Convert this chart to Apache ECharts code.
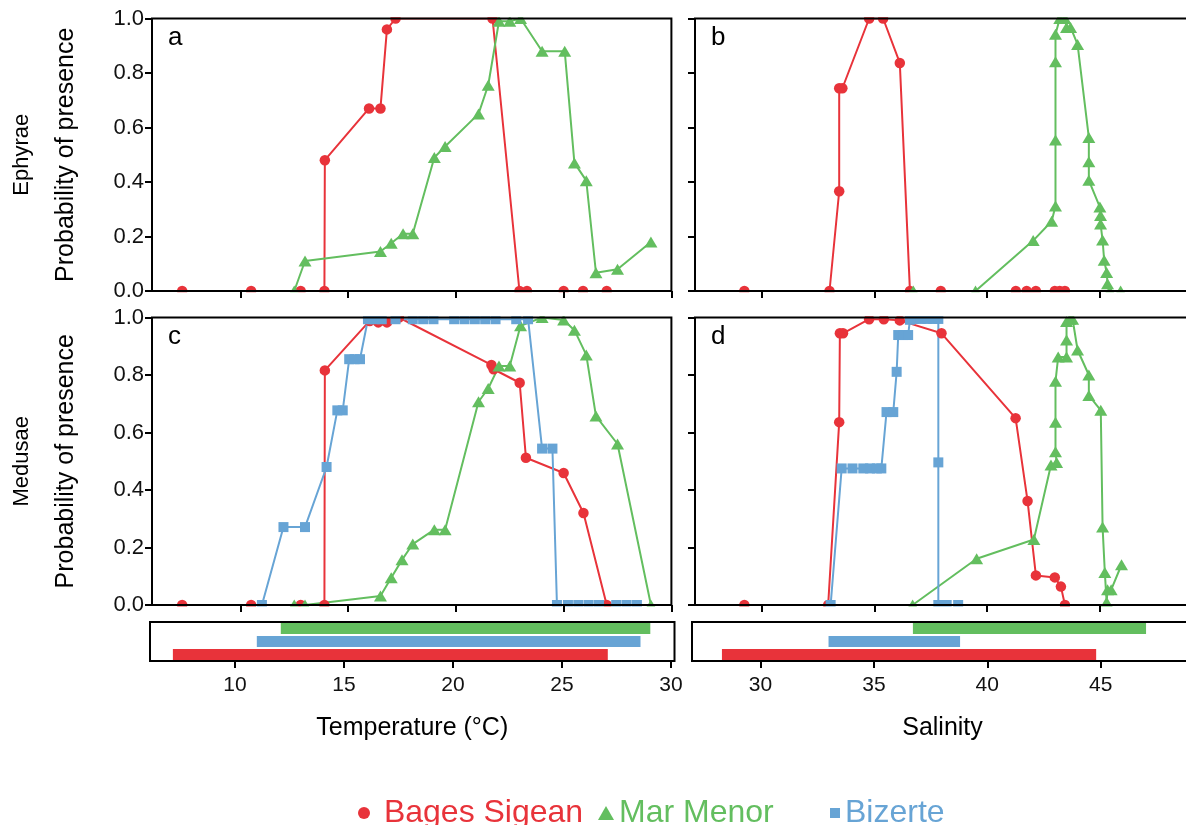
<!DOCTYPE html>
<html><head><meta charset="utf-8">
<script src="https://cdn.jsdelivr.net/npm/echarts@6/dist/echarts.min.js"></script>
<style>html,body{margin:0;padding:0;background:#fff}#c{width:1186px;height:825px}</style>
</head><body><div id="c"></div><script>
// ---------- DATA ----------
const SITES = ['Bages Sigean', 'Mar Menor', 'Bizerte'];
const COLORS = {'Bages Sigean': '#E8333A', 'Mar Menor': '#63BE5F', 'Bizerte': '#67A4D5'};
const TEMP_TICKS = [10, 15, 20, 25, 30];
const SAL_TICKS = [30, 35, 40, 45];
const PANEL_LETTERS = ['a', 'b', 'c', 'd'];
const ROW_LABELS = ['Ephyrae', 'Medusae'];

// Ephyrae – temperature (panel a)
const bagesTempEph = [[7.3,0],[10.5,0],[12.8,0],[13.9,0],[13.92,0.48],[15.97,0.67],[16.5,0.67],[16.8,0.96],[17.2,1],[21.7,1],[22.95,0],[23.3,0],[25.0,0],[25.9,0],[27.0,0]];
const marMenorTempEph = [[12.5,0],[13.0,0.11],[16.5,0.145],[17.0,0.175],[17.55,0.21],[18.0,0.21],[19.0,0.49],[19.5,0.53],[21.05,0.65],[21.5,0.755],[22.0,0.99],[22.5,0.99],[23.0,1],[24.0,0.88],[25.05,0.88],[25.5,0.47],[26.05,0.405],[26.5,0.067],[27.5,0.08],[29.05,0.18]];
// Ephyrae – salinity (panel b)
const bagesSalEph = [[29.22,0],[33.0,0],[33.43,0.366],[33.43,0.744],[33.57,0.744],[34.76,1],[35.38,1],[36.12,0.837],[36.57,0],[37.94,0],[41.27,0],[41.75,0],[42.16,0],[43.0,0],[43.22,0],[43.45,0]];
const marMenorSalEph = [[36.72,0],[39.48,0],[42.04,0.185],[42.86,0.256],[43.03,0.312],[43.03,0.554],[43.03,0.841],[43.03,0.942],[43.22,1],[43.45,1],[43.52,0.967],[43.7,0.967],[44.01,0.905],[44.51,0.563],[44.51,0.474],[44.51,0.406],[45.0,0.308],[45.03,0.277],[45.03,0.246],[45.12,0.187],[45.19,0.113],[45.3,0.068],[45.34,0.027],[45.44,0],[45.92,0]];
// Medusae – temperature (panel c)
const bagesTempMed = [[7.3,0],[10.5,0],[12.8,0],[13.9,0],[13.92,0.816],[16.0,0.988],[16.4,0.983],[16.8,0.983],[17.36,1],[21.65,0.835],[21.75,0.82],[22.96,0.773],[23.25,0.512],[25.0,0.459],[25.92,0.32],[27.0,0]];
const marMenorTempMed = [[12.5,0],[13.0,0],[16.5,0.031],[17.0,0.095],[17.5,0.157],[18.0,0.212],[19.0,0.262],[19.5,0.262],[21.05,0.707],[21.5,0.753],[22.0,0.831],[22.5,0.831],[23.0,0.971],[24.0,1],[25.0,0.991],[25.5,0.956],[26.05,0.87],[26.5,0.657],[27.5,0.56],[29.05,0]];
const bizerteTempMed = [[11.0,0],[12.0,0.271],[13.0,0.271],[14.0,0.48],[14.5,0.677],[14.75,0.677],[15.05,0.855],[15.3,0.855],[15.55,0.855],[15.92,0.994],[16.24,0.994],[16.56,0.994],[17.2,0.994],[18.0,0.994],[18.48,0.994],[18.96,0.994],[19.92,0.994],[20.4,0.994],[20.88,0.994],[21.36,0.994],[21.84,0.994],[22.8,0.994],[23.35,0.994],[24.0,0.544],[24.48,0.544],[24.69,0],[25.2,0],[25.68,0],[26.16,0],[26.64,0],[27.44,0],[27.92,0],[28.4,0]];
// Medusae – salinity (panel d)
const bagesSalMed = [[29.22,0],[32.94,0],[33.43,0.636],[33.46,0.945],[33.6,0.945],[34.76,0.994],[35.41,0.994],[36.12,0.99],[37.97,0.945],[41.26,0.65],[41.79,0.362],[42.16,0.103],[43.0,0.096],[43.27,0.064],[43.45,0]];
const marMenorSalMed = [[36.69,0],[39.53,0.161],[42.07,0.228],[42.83,0.487],[43.08,0.496],[43.03,0.533],[43.03,0.636],[43.03,0.778],[43.15,0.863],[43.52,0.863],[43.52,0.922],[43.52,0.986],[43.67,0.994],[43.79,0.994],[44.01,0.887],[44.51,0.8],[44.51,0.729],[45.04,0.677],[45.12,0.271],[45.22,0.113],[45.3,0.01],[45.34,0.053],[45.5,0.053],[45.96,0.14]];
const bizerteSalMed = [[33.05,0],[33.54,0.475],[34.02,0.475],[34.5,0.475],[34.8,0.475],[35.1,0.475],[35.3,0.475],[35.53,0.671],[35.83,0.671],[35.98,0.811],[36.05,0.939],[36.27,0.939],[36.49,0.939],[36.57,0.992],[36.75,0.995],[37.05,0.995],[37.35,0.995],[37.6,0.995],[37.83,0.995],[37.83,0.496],[37.83,0],[38.2,0],[38.71,0]];

// Observed ranges (strip under panels), bottom to top
const RANGE_SITES = ['Bages Sigean', 'Bizerte', 'Mar Menor'];
const TEMP_RANGE_START = [7.15, 11.0, 12.1];
const TEMP_RANGE_END = [27.1, 28.6, 29.05];
const SAL_RANGE_START = [28.3, 33.0, 36.72];
const SAL_RANGE_END = [44.8, 38.8, 47.0];

// ---------- LAYOUT ----------
const FONT = '"Liberation Sans", Arial, Helvetica, sans-serif';
const LAY = {
  temp: {left: 152, width: 519.4, min: 5.9, max: 30},
  sal: {left: 695, width: 495, min: 27.03, max: 49},
  rows: [{top: 18.5, height: 272.5}, {top: 317.5, height: 287.5}],
  tempStrip: {left: 150, width: 524.5, min: 6.1, max: 30.16},
  salStrip: {left: 692, width: 501, min: 26.98, max: 49.07},
  strip: {top: 622, height: 39}
};
const SYMBOL = {'Bages Sigean': ['circle', 10.5], 'Mar Menor': ['triangle', [13, 11]], 'Bizerte': ['rect', 10]};

const grids = [], xAxes = [], yAxes = [], series = [], graphics = [];
const tickStyle = {color: '#000', width: 2};

const panels = [
  {col: 'temp', row: 0, lines: {'Bages Sigean': bagesTempEph, 'Mar Menor': marMenorTempEph}},
  {col: 'sal', row: 0, lines: {'Bages Sigean': bagesSalEph, 'Mar Menor': marMenorSalEph}},
  {col: 'temp', row: 1, lines: {'Bages Sigean': bagesTempMed, 'Mar Menor': marMenorTempMed, 'Bizerte': bizerteTempMed}},
  {col: 'sal', row: 1, lines: {'Bages Sigean': bagesSalMed, 'Mar Menor': marMenorSalMed, 'Bizerte': bizerteSalMed}}
];

panels.forEach((p, i) => {
  const c = LAY[p.col], r = LAY.rows[p.row];
  grids.push({left: c.left, width: c.width, top: r.top, height: r.height, show: true,
    outerBoundsMode: 'none',
    borderColor: '#000', borderWidth: 2, backgroundColor: 'transparent', z: 10});
  xAxes.push({gridIndex: i, type: 'value', min: c.min, max: c.max, z: 10,
    axisLine: {show: false}, splitLine: {show: false},
    axisTick: {show: true, length: 7, lineStyle: tickStyle, customValues: p.col === 'temp' ? TEMP_TICKS : SAL_TICKS},
    axisLabel: {show: false}});
  const isLeft = p.col === 'temp';
  yAxes.push({gridIndex: i, type: 'value', min: 0, max: 1, interval: 0.2, z: 10,
    axisLine: {show: false}, splitLine: {show: false},
    axisTick: {show: true, length: 7, lineStyle: tickStyle},
    axisLabel: {show: isLeft, formatter: v => v.toFixed(1), fontSize: 22, color: '#111', fontFamily: FONT, margin: 8},
    name: isLeft ? 'Probability of presence' : '', nameLocation: 'middle', nameRotate: 90, nameGap: 73,
    nameTextStyle: {fontSize: 25, color: '#000', fontFamily: FONT}});
  SITES.forEach(s => {
    if (!p.lines[s]) return;
    series.push({type: 'line', name: s, xAxisIndex: i, yAxisIndex: i, data: p.lines[s],
      symbol: SYMBOL[s][0], symbolSize: SYMBOL[s][1], showSymbol: true,
      color: COLORS[s], lineStyle: {width: 2, color: COLORS[s]}, itemStyle: {color: COLORS[s]},
      z: 2, animation: false});
  });
  graphics.push({type: 'text', z: 20, style: {text: PANEL_LETTERS[i], x: c.left + 16, y: r.top + 19,
    fill: '#000', font: '26px ' + FONT, verticalAlign: 'middle', align: 'left'}});
});

// Range strips
[['tempStrip', TEMP_TICKS, TEMP_RANGE_START, TEMP_RANGE_END, 'Temperature (°C)'],
 ['salStrip', SAL_TICKS, SAL_RANGE_START, SAL_RANGE_END, 'Salinity']].forEach((d, k) => {
  const gi = 4 + k, c = LAY[d[0]];
  grids.push({left: c.left, width: c.width, top: LAY.strip.top, height: LAY.strip.height, show: true,
    outerBoundsMode: 'none',
    borderColor: '#000', borderWidth: 2, backgroundColor: 'transparent', z: 10});
  xAxes.push({gridIndex: gi, type: 'value', min: c.min, max: c.max, z: 10,
    axisLine: {show: false}, splitLine: {show: false},
    axisTick: {show: true, length: 7, lineStyle: tickStyle, customValues: d[1]},
    axisLabel: {show: true, customValues: d[1], fontSize: 21, color: '#111', fontFamily: FONT, margin: 14},
    name: d[4], nameLocation: 'middle', nameGap: 55,
    nameTextStyle: {fontSize: 25, color: '#000', fontFamily: FONT}});
  yAxes.push({gridIndex: gi, type: 'category', data: RANGE_SITES, z: 10,
    axisLine: {show: false}, axisTick: {show: false}, axisLabel: {show: false}, splitLine: {show: false}});
  series.push({type: 'custom', xAxisIndex: gi, yAxisIndex: gi, z: 2, animation: false, silent: true,
    data: RANGE_SITES.map((s, j) => ({value: [d[2][j], d[3][j], j], itemStyle: {color: COLORS[s]}})),
    renderItem: (params, api) => {
      const a = api.coord([api.value(0), api.value(2)]);
      const b = api.coord([api.value(1), api.value(2)]);
      const h = api.size([0, 1])[1] * 0.85;
      return {type: 'rect', shape: {x: a[0], y: a[1] - h / 2, width: b[0] - a[0], height: h},
        style: {fill: api.visual('color')}};
    }});
});

// white masks so markers on panel edges look clipped
[[0, 17.3], [292.3, 24], [606.4, 14.3]].forEach(m => {
  graphics.push({type: 'rect', z: 5, silent: true, shape: {x: 151, y: m[0], width: 1100, height: m[1]}, style: {fill: '#fff'}});
});

// row labels
ROW_LABELS.forEach((t, i) => {
  const r = LAY.rows[i];
  graphics.push({type: 'text', z: 20, x: 22, y: r.top + r.height / 2, rotation: Math.PI / 2,
    style: {text: t, fill: '#000', font: '22px ' + FONT, align: 'center', verticalAlign: 'middle'}});
});

// legends (one per site)
const LEG = [
  {name: 'Bages Sigean', left: 358, icon: 'circle', w: 12, h: 12, pre: ' '},
  {name: 'Mar Menor', left: 598, icon: 'triangle', w: 16, h: 14, pre: ''},
  {name: 'Bizerte', left: 830, icon: 'rect', w: 10, h: 10, pre: ''}
];
const legends = LEG.map(l => ({
  data: [l.name], left: l.left, top: 797, padding: 0, icon: l.icon, itemWidth: l.w, itemHeight: l.h,
  selectedMode: false, formatter: n => l.pre + n,
  textStyle: {color: COLORS[l.name], fontSize: 32, fontFamily: FONT}
}));

const chart = echarts.init(document.getElementById('c'), null, {renderer: 'canvas'});
chart.setOption({
  animation: false, backgroundColor: '#fff',
  textStyle: {fontFamily: FONT},
  grid: grids, xAxis: xAxes, yAxis: yAxes, series: series,
  legend: legends, graphic: graphics
});
</script></body></html>
